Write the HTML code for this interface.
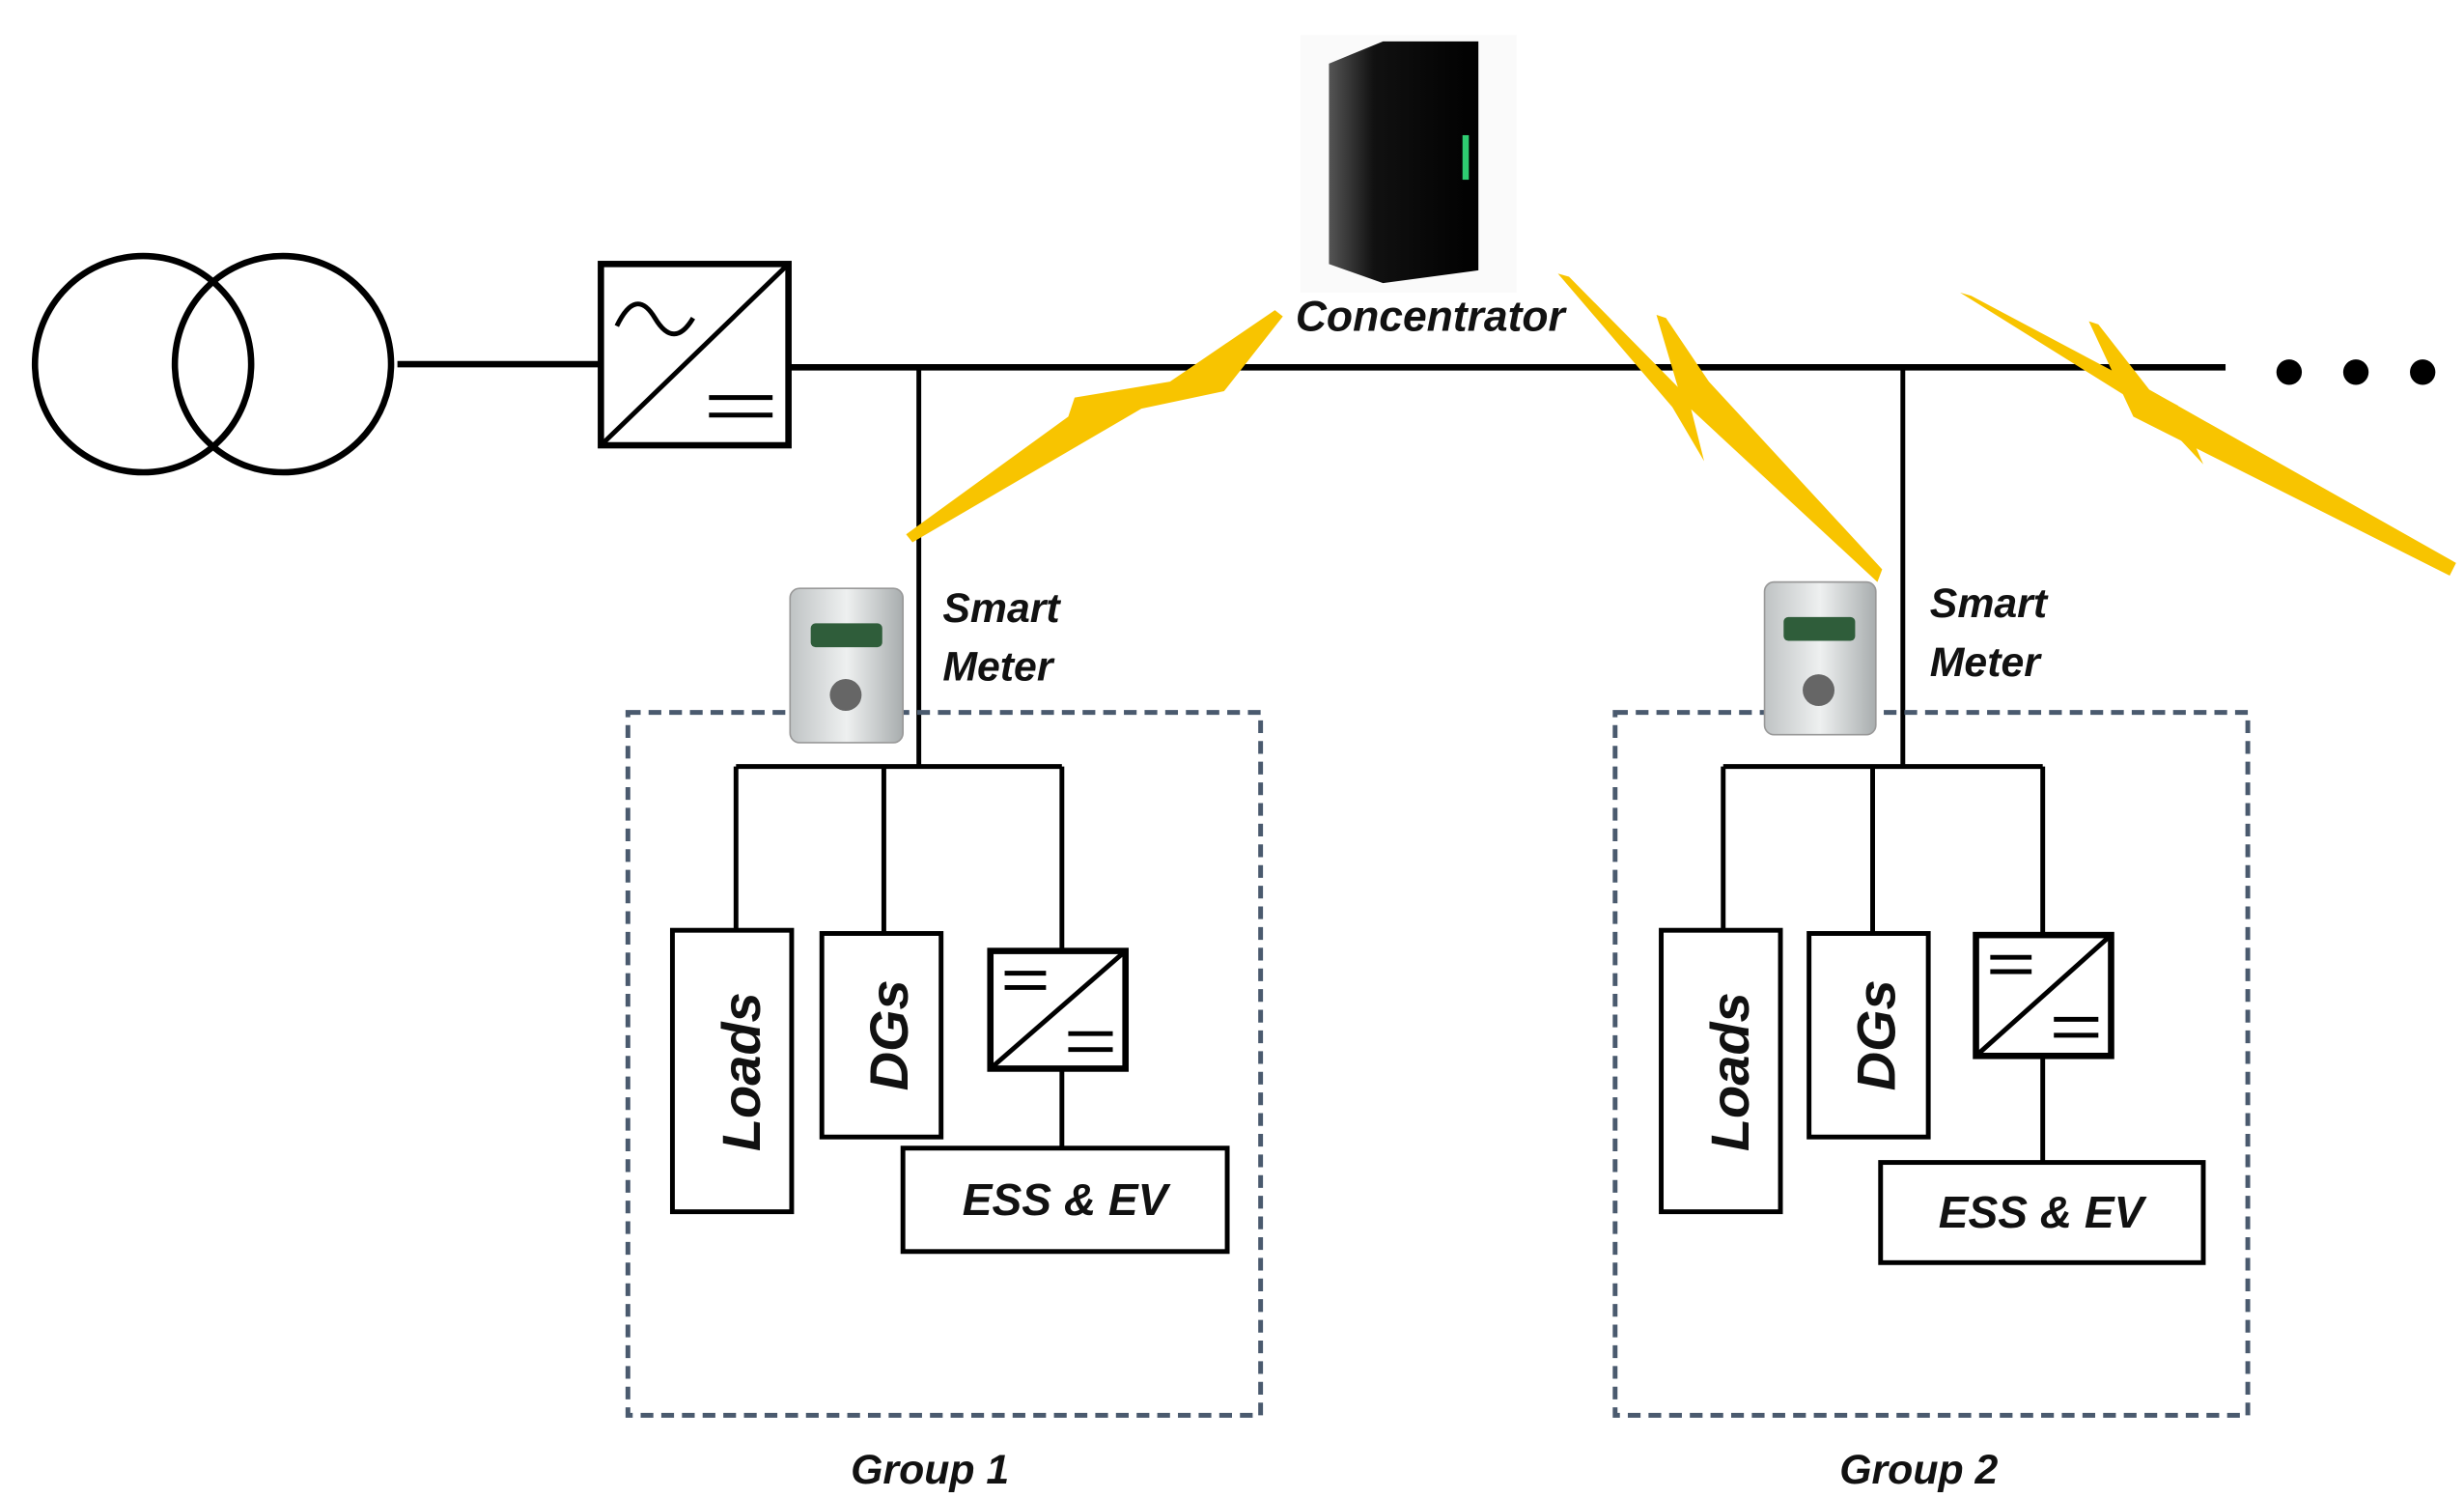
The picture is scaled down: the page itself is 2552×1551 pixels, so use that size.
<!DOCTYPE html>
<html><head><meta charset="utf-8"><style>
html,body{margin:0;padding:0;background:#fff;}
svg{display:block;}
text{font-family:"Liberation Sans",sans-serif;font-style:italic;font-weight:bold;fill:#111;}
</style></head><body>
<svg width="2552" height="1551" viewBox="0 0 1550 942" xmlns="http://www.w3.org/2000/svg">
<defs>
<linearGradient id="srv" x1="0" x2="1"><stop offset="0" stop-color="#555"/><stop offset="0.3" stop-color="#111"/><stop offset="1" stop-color="#000"/></linearGradient>
<linearGradient id="mtr" x1="0" x2="1"><stop offset="0" stop-color="#bfc3c4"/><stop offset="0.5" stop-color="#eef0f0"/><stop offset="1" stop-color="#a8adae"/></linearGradient>
</defs>
<g fill="none" stroke="#000" stroke-width="4">
<circle cx="90" cy="229" r="68"/><circle cx="178" cy="229" r="68"/>
<line x1="250" y1="229" x2="378" y2="229"/>
<rect x="378" y="166" width="118" height="114"/>
<line x1="378" y1="280" x2="496" y2="166" stroke-width="3"/>
<path d="M388 205 Q400 180 412 200 T436 200" stroke-width="3"/>
<line x1="446" y1="250" x2="486" y2="250" stroke-width="3"/><line x1="446" y1="261" x2="486" y2="261" stroke-width="3"/>
<line x1="496" y1="231" x2="1400" y2="231"/>
</g>
<g fill="#000"><circle cx="1440" cy="234" r="8"/><circle cx="1482" cy="234" r="8"/><circle cx="1524" cy="234" r="8"/></g>
<!-- group 1 -->
<g fill="none" stroke="#000" stroke-width="3">
<line x1="578" y1="231" x2="578" y2="482"/>
<line x1="463" y1="482" x2="668" y2="482"/>
<line x1="463" y1="482" x2="463" y2="585"/><line x1="556" y1="482" x2="556" y2="587"/><line x1="668" y1="482" x2="668" y2="598"/>
<rect x="423" y="585" width="75" height="177"/><rect x="517" y="587" width="75" height="128"/>
<rect x="623" y="598" width="85" height="74" stroke-width="4"/>
<line x1="623" y1="672" x2="708" y2="598"/>
<line x1="632" y1="612" x2="658" y2="612"/><line x1="632" y1="621" x2="658" y2="621"/>
<line x1="672" y1="650" x2="700" y2="650"/><line x1="672" y1="660" x2="700" y2="660"/>
<line x1="668" y1="672" x2="668" y2="722"/>
<rect x="568" y="722" width="204" height="65"/>
<rect x="395" y="448" width="398" height="442" stroke="#4a5a6e" stroke-dasharray="8,5"/>
</g>
<!-- group 2 -->
<g fill="none" stroke="#000" stroke-width="3">
<line x1="1197" y1="231" x2="1197" y2="482"/>
<line x1="1084" y1="482" x2="1285" y2="482"/>
<line x1="1084" y1="482" x2="1084" y2="585"/><line x1="1178" y1="482" x2="1178" y2="587"/><line x1="1285" y1="482" x2="1285" y2="588"/>
<rect x="1045" y="585" width="75" height="177"/><rect x="1138" y="587" width="75" height="128"/>
<rect x="1243" y="588" width="85" height="76" stroke-width="4"/>
<line x1="1243" y1="664" x2="1328" y2="588"/>
<line x1="1252" y1="602" x2="1278" y2="602"/><line x1="1252" y1="611" x2="1278" y2="611"/>
<line x1="1292" y1="641" x2="1320" y2="641"/><line x1="1292" y1="651" x2="1320" y2="651"/>
<line x1="1285" y1="664" x2="1285" y2="731"/>
<rect x="1183" y="731" width="203" height="63"/>
<rect x="1016" y="448" width="398" height="442" stroke="#4a5a6e" stroke-dasharray="8,5"/>
</g>
<!-- lightning -->
<g fill="#f8c400">
<polygon points="802,195 807,199 770,246 718,257 574,341 570,336 672,262 676,250 736,240"/>
<polygon points="980,172 987,174 1062,250 1072,290 1052,256"/>
<polygon points="1042,198 1048,200 1075,240 1184,358 1181,366 1058,252"/>
<polygon points="1233,184 1240,186 1370,255 1386,292 1358,262"/>
<polygon points="1314,202 1320,204 1352,245 1545,354 1541,362 1342,262"/>
</g>
<!-- concentrator -->
<rect x="818" y="22" width="136" height="162" fill="#fafafa"/>
<polygon points="836,40 870,26 930,26 930,170 870,178 836,166" fill="url(#srv)"/>
<rect x="920" y="85" width="4" height="28" fill="#2ecc71"/>
<text x="815" y="208" font-size="27">Concentrator</text>
<!-- meters -->
<rect x="497" y="370" width="71" height="97" rx="6" fill="url(#mtr)" stroke="#999"/>
<rect x="510" y="392" width="45" height="15" rx="3" fill="#2f5d3a"/>
<circle cx="532" cy="437" r="10" fill="#666"/>
<rect x="1110" y="366" width="70" height="96" rx="6" fill="url(#mtr)" stroke="#999"/>
<rect x="1122" y="388" width="45" height="15" rx="3" fill="#2f5d3a"/>
<circle cx="1144" cy="434" r="10" fill="#666"/>
<g font-size="26">
<text x="593" y="391">Smart</text><text x="593" y="428">Meter</text>
<text x="1214" y="388">Smart</text><text x="1214" y="425">Meter</text>
<text x="585" y="933" text-anchor="middle">Group 1</text>
<text x="1207" y="933" text-anchor="middle">Group 2</text>
<text x="670" y="764" text-anchor="middle" font-size="28">ESS &amp; EV</text>
<text x="1284" y="772" text-anchor="middle" font-size="28">ESS &amp; EV</text>
<text transform="translate(478,674) rotate(-90)" text-anchor="middle" font-size="34">Loads</text>
<text transform="translate(571,651) rotate(-90)" text-anchor="middle" font-size="34">DGs</text>
<text transform="translate(1100,674) rotate(-90)" text-anchor="middle" font-size="34">Loads</text>
<text transform="translate(1192,651) rotate(-90)" text-anchor="middle" font-size="34">DGs</text>
</g>
</svg>
</body></html>
